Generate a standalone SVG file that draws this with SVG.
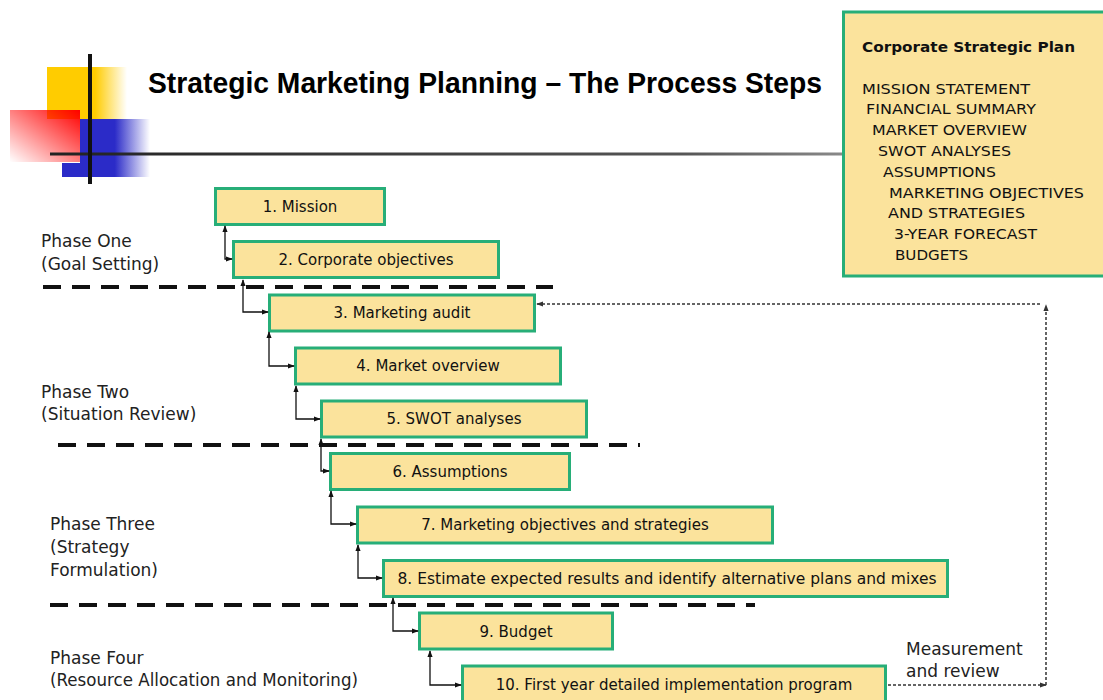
<svg xmlns="http://www.w3.org/2000/svg" width="1103" height="700" viewBox="0 0 1103 700">
  <defs>
    <linearGradient id="gYellow" x1="0" y1="0" x2="1" y2="0">
      <stop offset="0" stop-color="#FFCC00"/>
      <stop offset="0.6" stop-color="#FFCC00"/>
      <stop offset="1" stop-color="#FFCC00" stop-opacity="0"/>
    </linearGradient>
    <linearGradient id="gBlue" x1="62" y1="0" x2="150" y2="0" gradientUnits="userSpaceOnUse">
      <stop offset="0" stop-color="#2B2BC8"/>
      <stop offset="0.6" stop-color="#2B2BC8"/>
      <stop offset="1" stop-color="#2B2BC8" stop-opacity="0"/>
    </linearGradient>
    <linearGradient id="gRed" x1="1" y1="0" x2="0" y2="1">
      <stop offset="0" stop-color="#FF0000"/>
      <stop offset="1" stop-color="#FF0000" stop-opacity="0"/>
    </linearGradient>
    <linearGradient id="gRule" x1="50" y1="0" x2="1103" y2="0" gradientUnits="userSpaceOnUse">
      <stop offset="0" stop-color="#222"/>
      <stop offset="0.6" stop-color="#555"/>
      <stop offset="1" stop-color="#ddd"/>
    </linearGradient>
    <marker id="ah" viewBox="0 0 8 8" refX="7" refY="4" markerWidth="7" markerHeight="7" markerUnits="userSpaceOnUse" orient="auto-start-reverse">
      <path d="M0,1 L8,4 L0,7 Z" fill="#111"/>
    </marker>
    <marker id="ahd" viewBox="0 0 8 8" refX="7" refY="4" markerWidth="7" markerHeight="7" markerUnits="userSpaceOnUse" orient="auto-start-reverse">
      <path d="M0,1 L8,4 L0,7 Z" fill="#333"/>
    </marker>
  </defs>
  <style>
    .box { fill: #FBE39C; stroke: #27AE78; stroke-width: 3; }
    .lbl { font-family: "DejaVu Sans", "Liberation Sans", sans-serif; font-size: 15px; fill: #111; text-anchor: middle; }
    .phase { font-family: "DejaVu Sans", "Liberation Sans", sans-serif; font-size: 17px; fill: #222; }
    .plan { font-family: "DejaVu Sans", "Liberation Sans", sans-serif; font-size: 13.5px; fill: #111; }
    .sep { stroke: #111; stroke-width: 4; stroke-dasharray: 18 11; fill: none; }
    .link { stroke: #111; stroke-width: 1.3; fill: none; marker-start: url(#ah); marker-end: url(#ah); }
    .fb { stroke: #333; stroke-width: 1.5; stroke-dasharray: 3 2; fill: none; marker-end: url(#ahd); }
  </style>

  <rect width="1103" height="700" fill="#fff"/>

  <!-- Corner logo -->
  <g id="logo">
    <rect x="47" y="67" width="80" height="52" fill="url(#gYellow)"/>
    <path d="M80,119 H150 V177 H62 V163 H80 Z" fill="url(#gBlue)"/>
    <rect x="10" y="110" width="70" height="52" fill="url(#gRed)"/>
    <rect x="50" y="152.5" width="1053" height="3" fill="url(#gRule)"/>
    <rect x="88" y="54" width="4" height="130" fill="#111"/>
  </g>

  <g id="title">
    <text x="148" y="93" font-family="'Liberation Sans', Arial, sans-serif" font-weight="bold" font-size="29" fill="#000" textLength="674" lengthAdjust="spacingAndGlyphs">Strategic Marketing Planning – The Process Steps</text>
  </g>

  <!-- Corporate Strategic Plan summary -->
  <g id="corporate-plan">
    <rect class="box" x="843.5" y="12" width="265" height="264"/>
    <text x="862" y="52" font-family="'DejaVu Sans', sans-serif" font-weight="bold" font-size="14" fill="#111" textLength="213" lengthAdjust="spacingAndGlyphs">Corporate Strategic Plan</text>
    <text class="plan" x="862" y="94" textLength="168" lengthAdjust="spacingAndGlyphs">MISSION STATEMENT</text>
    <text class="plan" x="866" y="114" textLength="170" lengthAdjust="spacingAndGlyphs">FINANCIAL SUMMARY</text>
    <text class="plan" x="872" y="135" textLength="155" lengthAdjust="spacingAndGlyphs">MARKET OVERVIEW</text>
    <text class="plan" x="878" y="156" textLength="133" lengthAdjust="spacingAndGlyphs">SWOT ANALYSES</text>
    <text class="plan" x="883" y="177" textLength="113" lengthAdjust="spacingAndGlyphs">ASSUMPTIONS</text>
    <text class="plan" x="889" y="198" textLength="195" lengthAdjust="spacingAndGlyphs">MARKETING OBJECTIVES</text>
    <text class="plan" x="888" y="218" textLength="137" lengthAdjust="spacingAndGlyphs">AND STRATEGIES</text>
    <text class="plan" x="894" y="239" textLength="143" lengthAdjust="spacingAndGlyphs">3-YEAR FORECAST</text>
    <text class="plan" x="895" y="260" textLength="73" lengthAdjust="spacingAndGlyphs">BUDGETS</text>
  </g>

  <!-- Phase labels -->
  <g id="phase-one">
    <text class="phase" x="41" y="247">Phase One</text>
    <text class="phase" x="41" y="270">(Goal Setting)</text>
  </g>
  <g id="phase-two">
    <text class="phase" x="41" y="398">Phase Two</text>
    <text class="phase" x="41" y="420">(Situation Review)</text>
  </g>
  <g id="phase-three">
    <text class="phase" x="50" y="530">Phase Three</text>
    <text class="phase" x="50" y="553">(Strategy</text>
    <text class="phase" x="50" y="576">Formulation)</text>
  </g>
  <g id="phase-four">
    <text class="phase" x="50" y="664">Phase Four</text>
    <text class="phase" x="50" y="686" textLength="308" lengthAdjust="spacingAndGlyphs">(Resource Allocation and Monitoring)</text>
  </g>

  <!-- Phase separators -->
  <g id="separators">
    <line class="sep" x1="43" y1="287" x2="553" y2="287"/>
    <line class="sep" x1="58" y1="445" x2="640" y2="445"/>
    <line class="sep" x1="50" y1="605" x2="755" y2="605"/>
  </g>

  <!-- Process steps -->
  <g id="step1">
    <rect class="box" x="215.5" y="188.5" width="169" height="36"/>
    <text class="lbl" x="300" y="212">1. Mission</text>
  </g>
  <g id="step2">
    <rect class="box" x="233.5" y="241.5" width="265" height="36"/>
    <text class="lbl" x="366" y="265">2. Corporate objectives</text>
  </g>
  <g id="step3">
    <rect class="box" x="269.5" y="295" width="265" height="36"/>
    <text class="lbl" x="402" y="318">3. Marketing audit</text>
  </g>
  <g id="step4">
    <rect class="box" x="295.5" y="348" width="265" height="36"/>
    <text class="lbl" x="428" y="371">4. Market overview</text>
  </g>
  <g id="step5">
    <rect class="box" x="321.5" y="401" width="265" height="36"/>
    <text class="lbl" x="454" y="424">5. SWOT analyses</text>
  </g>
  <g id="step6">
    <rect class="box" x="330.5" y="453.5" width="239" height="36"/>
    <text class="lbl" x="450" y="477">6. Assumptions</text>
  </g>
  <g id="step7">
    <rect class="box" x="357.5" y="507" width="415" height="36"/>
    <text class="lbl" x="565" y="530">7. Marketing objectives and strategies</text>
  </g>
  <g id="step8">
    <rect class="box" x="383.5" y="560.5" width="564" height="36"/>
    <text class="lbl" x="667" y="584" textLength="539" lengthAdjust="spacingAndGlyphs">8. Estimate expected results and identify alternative plans and mixes</text>
  </g>
  <g id="step9">
    <rect class="box" x="419.5" y="613" width="193" height="36"/>
    <text class="lbl" x="516" y="637">9. Budget</text>
  </g>
  <g id="step10">
    <rect class="box" x="462.5" y="666" width="423" height="38"/>
    <text class="lbl" x="674" y="690">10. First year detailed implementation program</text>
  </g>

  <g id="feedback-label">
    <text class="phase" x="906" y="655">Measurement</text>
    <text class="phase" x="906" y="677">and review</text>
  </g>

  <!-- Connectors -->
  <g id="connectors">
    <path class="link" d="M225,226 V259 H232"/>
    <path class="link" d="M243,280 V312 H268"/>
    <path class="link" d="M269,332 V366 H294"/>
    <path class="link" d="M296,386 V419 H320"/>
    <path class="link" d="M321,439 V471 H329"/>
    <path class="link" d="M331,491 V524 H356"/>
    <path class="link" d="M358,545 V578 H382"/>
    <path class="link" d="M393,598 V631 H418"/>
    <path class="link" d="M430,651 V685 H461"/>
    <path class="fb" d="M888,685 H1046"/>
    <path class="fb" d="M1046,685 V305"/>
    <path class="fb" d="M1040,304 H537"/>
  </g>
</svg>
